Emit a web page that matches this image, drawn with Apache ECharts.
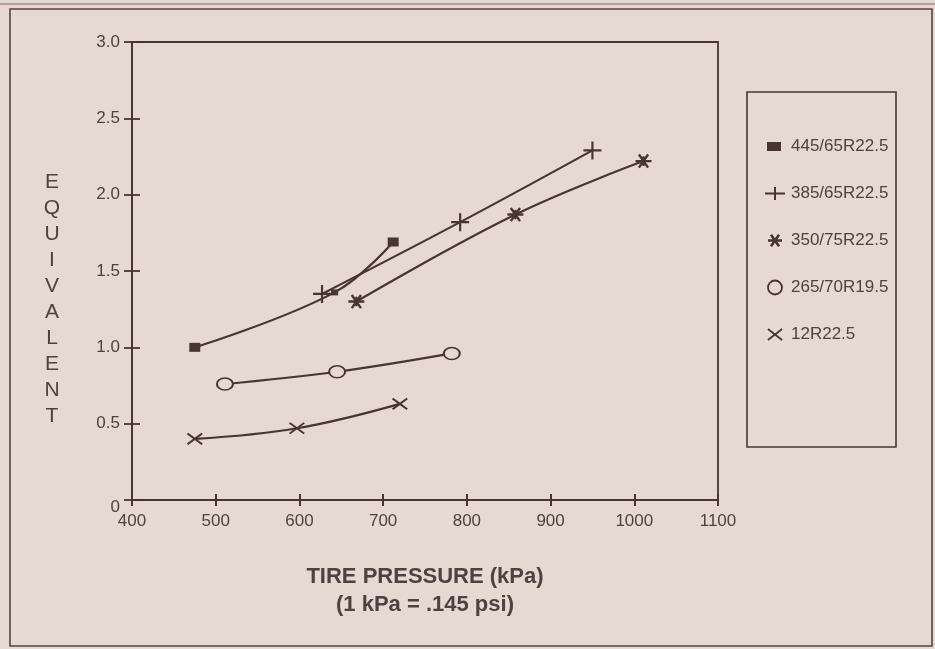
<!DOCTYPE html>
<html>
<head>
<meta charset="utf-8">
<title>Tire pressure equivalent</title>
<script src="https://cdn.jsdelivr.net/npm/echarts@6/dist/echarts.min.js"></script>
<style>
  html, body { margin: 0; padding: 0; background: #e5d9d1; }
  #chart { width: 935px; height: 649px; }
</style>
</head>
<body>
<div id="chart"></div>
<script>
  // values: [tire pressure kPa, equivalent]
  const tire445 = [[475, 1.00], [642, 1.36], [712, 1.69]];
  const tire385 = [[627, 1.35], [792, 1.82], [950, 2.29]];
  const tire350 = [[668, 1.30], [858, 1.87], [1011, 2.22]];
  const tire265 = [[511, 0.76], [645, 0.84], [782, 0.96]];
  const tire12R = [[475, 0.40], [597, 0.47], [720, 0.63]];

  const seriesNames = ['445/65R22.5', '385/65R22.5', '350/75R22.5', '265/70R19.5', '12R22.5'];
  const yTitle = 'EQUIVALENT';
  const xTitle = ['TIRE PRESSURE (kPa)', '(1 kPa = .145 psi)'];

  const ink = '#47362f';
  const textInk = '#4d423f';
  const bg = '#e5d9d1';
  const font = '"Liberation Sans", Arial, Helvetica, sans-serif';

  // thin bar (rotated rect) as a path piece, used to build the hand-drawn style markers
  function bar(len, w, ang, cx, cy) {
    cx = cx === undefined ? 20 : cx;
    cy = cy === undefined ? 20 : cy;
    const a = ang * Math.PI / 180;
    const dx = Math.cos(a), dy = Math.sin(a);
    const nx = -dy, ny = dx;
    const h = len / 2, t = w / 2;
    const p = [
      [h * dx + t * nx, h * dy + t * ny],
      [-h * dx + t * nx, -h * dy + t * ny],
      [-h * dx - t * nx, -h * dy - t * ny],
      [h * dx - t * nx, h * dy - t * ny]
    ].map(q => (q[0] + cx).toFixed(2) + ',' + (q[1] + cy).toFixed(2));
    return 'M' + p[0] + 'L' + p[1] + 'L' + p[2] + 'L' + p[3] + 'Z';
  }
  const plusIcon = 'path://' + bar(20, 2.4, 0) + bar(20, 2.4, 90);
  const starIcon = 'path://' + bar(20, 3, 0) + bar(20, 3, 55) + bar(20, 3, 125) + bar(12, 2.6, 90);
  const crossIcon = 'path://' + bar(20, 2.2, 40) + bar(20, 2.2, 140);

  // legend icons live in a 22x14 box (corner points pad the box)
  const pad = 'M0,0L0.01,0L0,0.01ZM22,14L21.99,14L22,13.99Z';
  const legSquare = 'path://' + pad + 'M3,2.5L17,2.5L17,11.5L3,11.5Z';
  const legPlus = 'path://' + pad + 'M1,6L21,6L21,8L1,8ZM10,0.5L12,0.5L12,13.5L10,13.5Z';
  const legStar = 'path://' + pad + bar(14, 2.6, 0, 11, 7) + bar(14, 2.6, 55, 11, 7) + bar(14, 2.6, 125, 11, 7);
  const legCross = 'path://' + pad + bar(18, 1.8, 38, 11, 7) + bar(18, 1.8, 142, 11, 7);

  const chart = echarts.init(document.getElementById('chart'));

  function lineSeries(name, data, symbol, size, extra) {
    return Object.assign({
      name: name,
      type: 'line',
      data: data,
      smooth: 0.4,
      symbol: symbol,
      symbolSize: size,
      symbolKeepAspect: true,
      showSymbol: true,
      lineStyle: { color: ink, width: 2.2 },
      itemStyle: { color: ink },
      emphasis: { disabled: true },
      z: 3
    }, extra || {});
  }

  const axisText = { color: textInk, fontFamily: font };

  chart.setOption({
    backgroundColor: bg,
    animation: false,
    grid: {
      left: 132, right: 217, top: 42, bottom: 149,
      show: true,
      borderColor: ink,
      borderWidth: 1.8,
      backgroundColor: 'transparent'
    },
    xAxis: [
      {
        type: 'value', min: 400, max: 1100, interval: 100,
        position: 'bottom',
        axisLine: { show: true, onZero: false, lineStyle: { color: ink, width: 1.8 } },
        axisTick: { show: true, length: 6, lineStyle: { color: ink, width: 2 } },
        axisLabel: Object.assign({ margin: 13, fontSize: 17, formatter: v => String(v) }, axisText),
        splitLine: { show: false }
      },
      {
        type: 'value', min: 400, max: 1100, interval: 100,
        position: 'bottom',
        axisLine: { show: false, onZero: false },
        axisTick: { show: true, inside: true, length: 6, lineStyle: { color: ink, width: 2 } },
        axisLabel: { show: false },
        splitLine: { show: false }
      }
    ],
    yAxis: [
      {
        type: 'value', min: 0, max: 3, interval: 0.5,
        axisLine: { show: true, onZero: false, lineStyle: { color: ink, width: 1.8 } },
        axisTick: { show: true, length: 8, lineStyle: { color: ink, width: 1.8 } },
        axisLabel: Object.assign({
          margin: 12,
          fontSize: 17,
          formatter: v => v === 0 ? '{z|0}' : v.toFixed(1),
          rich: { z: { color: textInk, fontSize: 17, fontFamily: font, padding: [14, 0, 0, 0] } }
        }, axisText),
        splitLine: { show: false }
      },
      {
        type: 'value', min: 0, max: 3, interval: 0.5,
        position: 'left',
        axisLine: { show: false, onZero: false },
        axisTick: { show: true, inside: true, length: 8, lineStyle: { color: ink, width: 1.8 } },
        axisLabel: { show: false },
        splitLine: { show: false }
      }
    ],
    legend: {
      orient: 'vertical',
      left: 759,
      top: 133,
      itemWidth: 22,
      itemHeight: 14,
      itemGap: 30,
      selectedMode: false,
      textStyle: { color: textInk, fontSize: 17, fontFamily: font, padding: [0, 0, 0, 0] },
      data: [
        { name: seriesNames[0], icon: legSquare, itemStyle: { color: ink } },
        { name: seriesNames[1], icon: legPlus, itemStyle: { color: ink } },
        { name: seriesNames[2], icon: legStar, itemStyle: { color: ink } },
        { name: seriesNames[3], icon: 'circle', itemStyle: { color: bg, borderColor: ink, borderWidth: 1.8 } },
        { name: seriesNames[4], icon: legCross, itemStyle: { color: ink } }
      ]
    },
    series: [
      lineSeries(seriesNames[0], [
        tire445[0],
        { value: tire445[1], symbolSize: [7, 6] },
        tire445[2]
      ], 'rect', [11, 9]),
      lineSeries(seriesNames[1], tire385, plusIcon, 18),
      lineSeries(seriesNames[2], tire350, starIcon, 16),
      lineSeries(seriesNames[3], tire265, 'circle', [16, 12], {
        itemStyle: { color: bg, borderColor: ink, borderWidth: 1.8 }
      }),
      lineSeries(seriesNames[4], tire12R, crossIcon, [16, 14])
    ],
    graphic: [
      // outer frame
      {
        type: 'rect', silent: true, z: 0,
        shape: { x: 10, y: 9, width: 922, height: 637 },
        style: { fill: 'none', stroke: '#564440', lineWidth: 1.6 }
      },
      {
        type: 'line', silent: true, z: 1,
        shape: { x1: 0, y1: 4, x2: 935, y2: 4 },
        style: { stroke: '#a4707a', lineWidth: 2, opacity: 0.6 }
      },
      // legend box
      {
        type: 'rect', silent: true,
        shape: { x: 747, y: 92, width: 149, height: 355 },
        style: { fill: 'none', stroke: ink, lineWidth: 1.6 }
      },
      // vertical axis title
      {
        type: 'text', silent: true,
        x: 52, y: 169,
        style: {
          text: yTitle.split('').join('\n'),
          align: 'center',
          lineHeight: 26,
          fill: textInk,
          font: '21px ' + font
        }
      },
      // x axis title
      {
        type: 'text', silent: true,
        x: 425, y: 563,
        style: {
          text: xTitle.join('\n'),
          align: 'center',
          lineHeight: 28,
          fill: textInk,
          font: 'bold 22px ' + font
        }
      }
    ]
  });
</script>
</body>
</html>
